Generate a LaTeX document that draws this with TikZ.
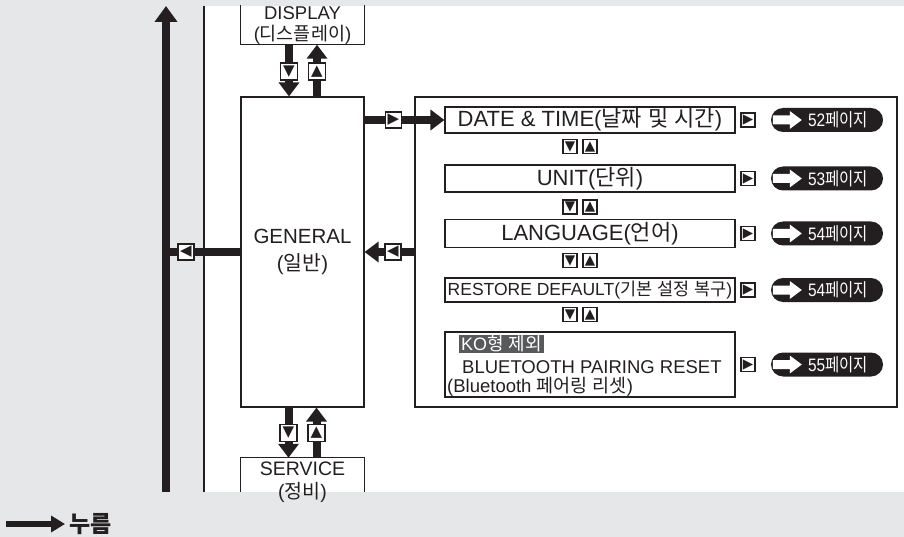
\documentclass[tikz,border=0pt]{standalone}
\usepackage{fontspec}
\usepackage{graphicx}
\setmainfont{Liberation Sans}
\newfontfamily\kr{Noto Sans CJK KR}
\newfontfamily\sym{DejaVu Sans}
\usetikzlibrary{arrows.meta,calc}
\definecolor{bggray}{HTML}{E6E7E9}
\definecolor{ink}{HTML}{231F20}
\definecolor{hl}{HTML}{58595B}
\newcommand\K[1]{{\kr #1}}
\newcommand\fs[2]{\fontsize{#1}{#2}\selectfont}
\pgfdeclarelayer{back}\pgfdeclarelayer{mid}\pgfsetlayers{back,mid,main}
\begin{document}
\begin{tikzpicture}[x=1pt,y=-1pt,
  boxline/.style={draw=ink,line width=1.1pt},
  menubox/.style={boxline,fill=white,minimum width=290,inner sep=0,align=center,text=ink},
  btn/.style={boxline,fill=white,minimum size=15,inner sep=0,font=\sym\fs{15}{15},text=ink},
  sbtn/.style={btn,minimum size=14,font=\sym\fs{13.5}{13.5}},
  thick arrow/.style={draw=ink,line width=8,-{Triangle[width=20pt,length=14pt]}},
  thick line/.style={draw=ink,line width=8},
  pill/.style={fill=ink,rounded corners=12,minimum width=112,minimum height=24,inner sep=0},
  pagetext/.style={text=white,font=\fs{18}{18},inner sep=0},
  txt/.style={text=ink,inner sep=0}
]
\useasboundingbox (0,0) rectangle (904,537);
\begin{pgfonlayer}{back}
  \fill[bggray] (0,0) rectangle (904,537);
  \fill[white] (204,6) rectangle (904,492);
  \draw[ink,line width=1.2] (204,6) -- (204,492);
  \node[boxline,minimum width=482,minimum height=310,inner sep=0] (panel) at (656,252) {};
\end{pgfonlayer}

% left column
\node[minimum width=123,minimum height=39,inner sep=0,align=center,font=\fs{18.5}{21},text=ink] (disp) at (302.5,25) {DISPLAY\\(\K{디스플레이})};
\draw[boxline] (disp.north west) -- (disp.south west) -- (disp.south east) -- (disp.north east);
\node[boxline,fill=white,minimum width=123,minimum height=310,inner sep=0,align=center,font=\fs{20.5}{27},text=ink] (gen) at (302.5,252) {GENERAL\\(\K{일반})};
\node[minimum width=123,minimum height=34,inner sep=0] (serv) at (302.5,475) {};
\draw[boxline] (serv.south west) -- (serv.north west) -- (serv.north east) -- (serv.south east);
\node[txt,align=center,font=\fs{19.5}{23}] (servt) at (302.5,482) {SERVICE\\(\K{정비})};

% right column boxes
\node[menubox,minimum height=26,font=\fs{22}{22}] (date) at (590,120) {DATE \& TIME(\K{날짜} \K{및} \K{시간})};
\node[menubox,minimum height=27,font=\fs{22}{22}] (unit) at (590,178.5) {UNIT(\K{단위})};
\node[menubox,minimum height=28,font=\fs{22}{22}] (lang) at (590,233.5) {LANGUAGE(\K{언어})};
\node[menubox,minimum height=24,font=\fs{17.5}{17.5}] (rest) at (590,290) {RESTORE DEFAULT(\K{기본} \K{설정} \K{복구})};
\node[menubox,minimum height=65] (bt) at (590,364.5) {};
\node[fill=hl,text=white,font=\fs{18}{18},inner xsep=2,inner ysep=1,anchor=west] (ko) at (459,344) {KO\K{형} \K{제외}};
\node[txt,font=\fs{18.5}{19.5},anchor=west,align=left] (btl) at (447,378.5) {\hspace*{15pt}BLUETOOTH PAIRING RESET\\(Bluetooth \K{페어링} \K{리셋})};

\foreach \y [count=\i] in {146.5,207,260.5,314.5} {
  \node[sbtn] (dn\i) at (570,\y) {▼};
  \node[sbtn] (up\i) at (590,\y) {▲};
}

\foreach \n/\y/\p in {date/120/52,unit/178.5/53,lang/233.5/54,rest/290/54,bt/364.5/55} {
  \node[sbtn] (go\n) at (748,\y) {▶};
  \node[pill] (pill\n) at (827,\y) {};
  \fill[white] ($(pill\n.west)+(2,-4.5)$) -- ++(17,0) -- ++(0,-4.5) -- ++(12,9) -- ++(-12,9) -- ++(0,-4.5) -- ++(-17,0) -- cycle;
  \node[pagetext] (pg\n) at (838,\y) {\scalebox{0.86}[1]{\p\K{페이지}}};
}

% connector buttons
\node[btn,minimum size=17] (b1) at (289,71.5) {▼};
\node[btn,minimum size=17] (b2) at (317,71.5) {▲};
\node[btn,minimum size=17] (b3) at (288.5,433) {▼};
\node[btn,minimum size=17] (b4) at (316.5,433) {▲};
\node[btn,minimum size=16] (b5) at (393.5,120) {▶};
\node[btn,minimum size=16] (b6) at (393,252) {◀};
\node[btn,minimum size=16] (b7) at (186,252) {◀};

\coordinate (bigbot) at (166,492);
\coordinate (bigtop) at (166,6);

\begin{pgfonlayer}{mid}
  \draw[thick arrow] (disp.south -| b1) -- (gen.north -| b1);
  \draw[thick arrow] (gen.north -| b2) -- (disp.south -| b2);
  \draw[thick arrow] (gen.south -| b3) -- (serv.north -| b3);
  \draw[thick arrow] (serv.north -| b4) -- (gen.south -| b4);
  \draw[thick arrow] (gen.east |- date) -- (date.west);
  \draw[thick arrow] (panel.west |- b6) -- (gen.east |- b6);
  \draw[thick line] (gen.west |- b7) -- (bigbot |- b7);
  \draw[draw=ink,line width=8,-{Triangle[width=22pt,length=16pt]}] (bigbot) -- (bigtop);
\end{pgfonlayer}

% legend
\coordinate (lg1) at (6,524);
\node[anchor=west,font=\kr\bfseries\fs{23}{23},text=ink,inner sep=0] (press) at (69,524) {누름};
\draw[draw=ink,line width=6,-{Triangle[width=16pt,length=14pt]},shorten >=4] (lg1) -- (press.west);
\end{tikzpicture}
\end{document}
